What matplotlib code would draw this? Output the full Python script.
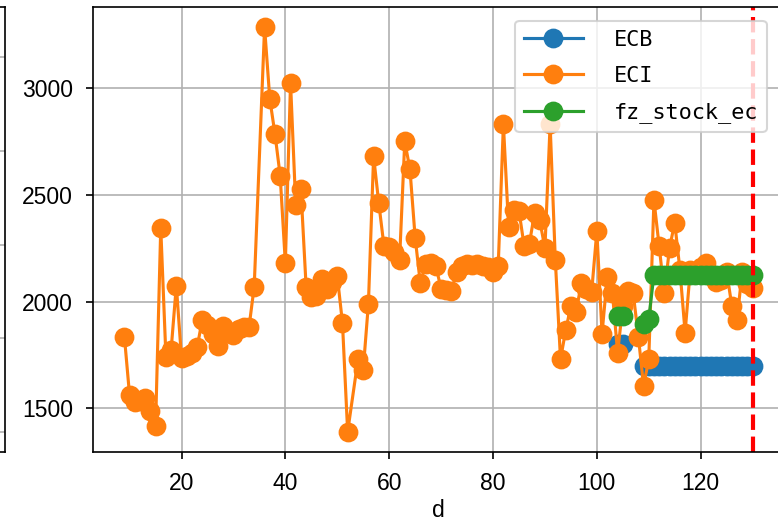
import numpy as np
import matplotlib
matplotlib.use("Agg")
import matplotlib.pyplot as plt
from matplotlib.ticker import MultipleLocator

plt.rcParams["font.family"] = ["Liberation Sans", "DejaVu Sans"]

nan = np.nan

# --------------------------------------------------
# Data
# --------------------------------------------------
days = list(range(9, 35)) + list(range(36, 53)) + list(range(54, 131))
eci = [1835, 1560, 1530, 1535, 1550, 1485, 1415, 2345, 1740, 1775, 2075, 1735,
       1745, 1760, 1785, 1915, 1890, 1850, 1790, 1885, 1860, 1845, 1870, 1880,
       1880, 2070,
       3285, 2950, 2785, 2590, 2180, 3025, 2450, 2525, 2070, 2020, 2025, 2105,
       2060, 2090, 2120, 1900, 1390,
       1730, 1680, 1990, 2680, 2460, 2260, 2255, 2230, 2195, 2750, 2620, 2300,
       2085, 2175, 2180, 2165, 2060, 2055, 2050, 2140, 2165, 2175, 2170, 2175,
       2165, 2160, 2140, 2165, 2830, 2350, 2430, 2425, 2260, 2270, 2415, 2380,
       2250, 2830, 2195, 1730, 1865, 1980, 1950, 2085, 2060, 2045, 2330, 1850,
       2115, 2040, 1760, 1980, 2050, 2040, 1835, 1605, 1730, 2475, 2260, 2040,
       2250, 2370, 2150, 1855, 2150, 2130, 2160, 2180, 2120, 2090, 2100, 2140,
       1980, 1915, 2140, 2080, 2065]

late_days = list(range(104, 131))
ecb = [1800, 1800, nan, nan, nan] + [1700] * 22
fz_stock_ec = [1930, 1930, nan, nan, nan, 1895, 1920] + [2125] * 20

cutoff_day = 130

# --------------------------------------------------
# Plot
# --------------------------------------------------
fig = plt.figure(figsize=(778 / 150, 522 / 150), dpi=150)

# neighbouring panel, mostly cut off on the left
ax0 = fig.add_axes([-0.6, 70 / 522, 0.6 + 5 / 778, 445 / 522])
ax0.set_ylim(-0.214, 4.535)
ax0.set_yticks(range(5))
ax0.set_xticks([])
ax0.tick_params(labelleft=False, left=False)
ax0.grid(True)

ax = fig.add_axes([93 / 778, 70 / 522, 691 / 778, 445 / 522])
ax.plot(late_days, ecb, marker="o", markersize=8.5, label="ECB")
ax.plot(days, eci, marker="o", markersize=8.5, label="ECI")
ax.plot(late_days, fz_stock_ec, marker="o", markersize=8.5, label="fz_stock_ec")
ax.axvline(cutoff_day, color="red", linestyle="--", linewidth=2)

ax.yaxis.set_major_locator(MultipleLocator(500))
ax.tick_params(labelsize=11, pad=6)
ax.set_xlabel("d", fontsize=11, labelpad=2)
ax.grid(True)
ax.legend(loc="upper right", bbox_to_anchor=(0.975, 0.969), borderaxespad=0,
          prop={"family": "DejaVu Sans Mono", "size": 10.5},
          handlelength=2.7, handletextpad=1.4, labelspacing=0.75)

fig.savefig("out.png", dpi=150)
